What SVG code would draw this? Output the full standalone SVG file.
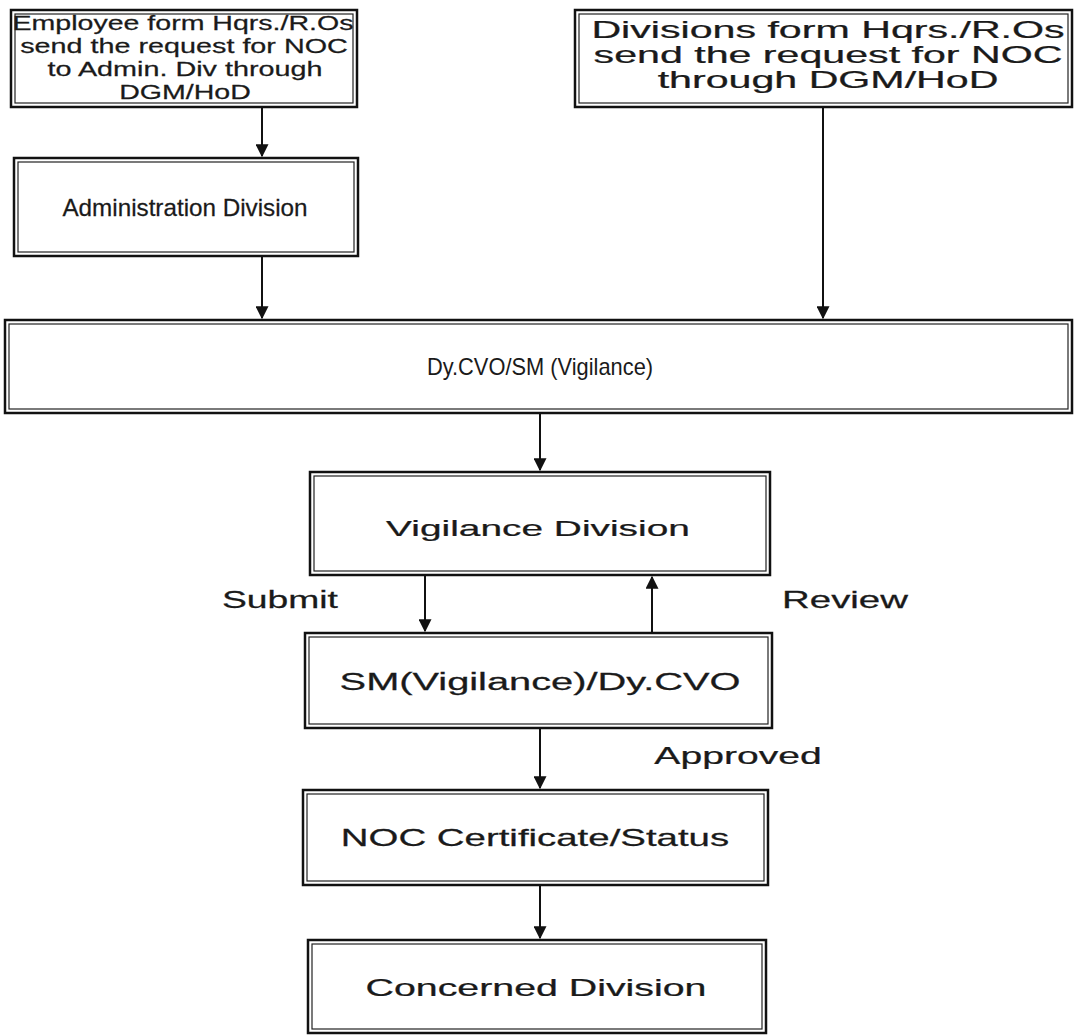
<svg xmlns="http://www.w3.org/2000/svg" width="1075" height="1035" viewBox="0 0 1075 1035">
<defs>
<style>
.o{fill:#fff;stroke:#111;stroke-width:2.5}
.i{fill:none;stroke:#222;stroke-width:1.2}
.t{font-family:"Liberation Sans",Arial,sans-serif;font-size:23px;fill:#1a1a1a;text-anchor:middle;stroke:#1a1a1a;stroke-width:0.25}
.s{font-size:21px}
.b{font-size:23px}
.c{stroke:#111;stroke-width:2;fill:none}
</style>
<marker id="ah" viewBox="0 0 10 10" refX="9" refY="5" markerWidth="13" markerHeight="13" markerUnits="userSpaceOnUse" orient="auto"><path d="M0,0 L10,5 L0,10 z" fill="#111"/></marker>
</defs>
<rect width="1075" height="1035" fill="#fff"/>
<g id="connectors">
<line class="c" x1="262" y1="108" x2="262" y2="156" marker-end="url(#ah)"/>
<line class="c" x1="262" y1="257" x2="262" y2="318" marker-end="url(#ah)"/>
<line class="c" x1="823" y1="108" x2="823" y2="318" marker-end="url(#ah)"/>
<line class="c" x1="540" y1="414" x2="540" y2="470" marker-end="url(#ah)"/>
<line class="c" x1="425" y1="576" x2="425" y2="631" marker-end="url(#ah)"/>
<line class="c" x1="652" y1="632" x2="652" y2="577" marker-end="url(#ah)"/>
<line class="c" x1="540" y1="729" x2="540" y2="788" marker-end="url(#ah)"/>
<line class="c" x1="540" y1="886" x2="540" y2="938" marker-end="url(#ah)"/>
<text class="t" transform="translate(280,608) scale(1.62,1)">Submit</text>
<text class="t" transform="translate(845,608) scale(1.67,1)">Review</text>
<text class="t" transform="translate(738,764) scale(1.7,1)">Approved</text>
</g>
<g id="n1">
<rect class="o" x="11" y="10" width="346" height="97"/>
<rect class="i" x="15" y="14" width="338" height="89"/>
<text class="t s" transform="translate(183,30) scale(1.36,1)">Employee form Hqrs./R.Os</text>
<text class="t s" transform="translate(184,53) scale(1.37,1)">send the request for NOC</text>
<text class="t s" transform="translate(185,76) scale(1.37,1)">to Admin. Div through</text>
<text class="t s" transform="translate(185,99) scale(1.36,1)">DGM/HoD</text>
</g>
<g id="n2">
<rect class="o" x="575" y="10" width="497" height="97"/>
<rect class="i" x="579" y="14" width="489" height="89"/>
<text class="t b" transform="translate(828,38) scale(1.79,1)">Divisions form Hqrs./R.Os</text>
<text class="t b" transform="translate(828,63) scale(1.79,1)">send the request for NOC</text>
<text class="t b" transform="translate(828,88) scale(1.79,1)">through DGM/HoD</text>
</g>
<g id="n3">
<rect class="o" x="14" y="158" width="344" height="98"/>
<rect class="i" x="18" y="162" width="336" height="90"/>
<text class="t" style="font-size:24px" transform="translate(185,216) scale(1.01,1)">Administration Division</text>
</g>
<g id="n4">
<rect class="o" x="5" y="320" width="1067" height="93"/>
<rect class="i" x="9" y="324" width="1059" height="85"/>
<text class="t" style="stroke-width:0" transform="translate(540,375) scale(0.95,1)">Dy.CVO/SM (Vigilance)</text>
</g>
<g id="n5">
<rect class="o" x="310" y="472" width="460" height="103"/>
<rect class="i" x="314" y="476" width="452" height="95"/>
<text class="t" transform="translate(538,536) scale(1.69,1)">Vigilance Division</text>
</g>
<g id="n6">
<rect class="o" x="305" y="633" width="467" height="95"/>
<rect class="i" x="309" y="637" width="459" height="87"/>
<text class="t" transform="translate(540,690) scale(1.73,1)">SM(Vigilance)/Dy.CVO</text>
</g>
<g id="n7">
<rect class="o" x="303" y="790" width="465" height="95"/>
<rect class="i" x="307" y="794" width="457" height="87"/>
<text class="t" transform="translate(535,846) scale(1.67,1)">NOC Certificate/Status</text>
</g>
<g id="n8">
<rect class="o" x="308" y="940" width="458" height="93"/>
<rect class="i" x="312" y="944" width="450" height="85"/>
<text class="t" transform="translate(536,996) scale(1.71,1)">Concerned Division</text>
</g>
</svg>
